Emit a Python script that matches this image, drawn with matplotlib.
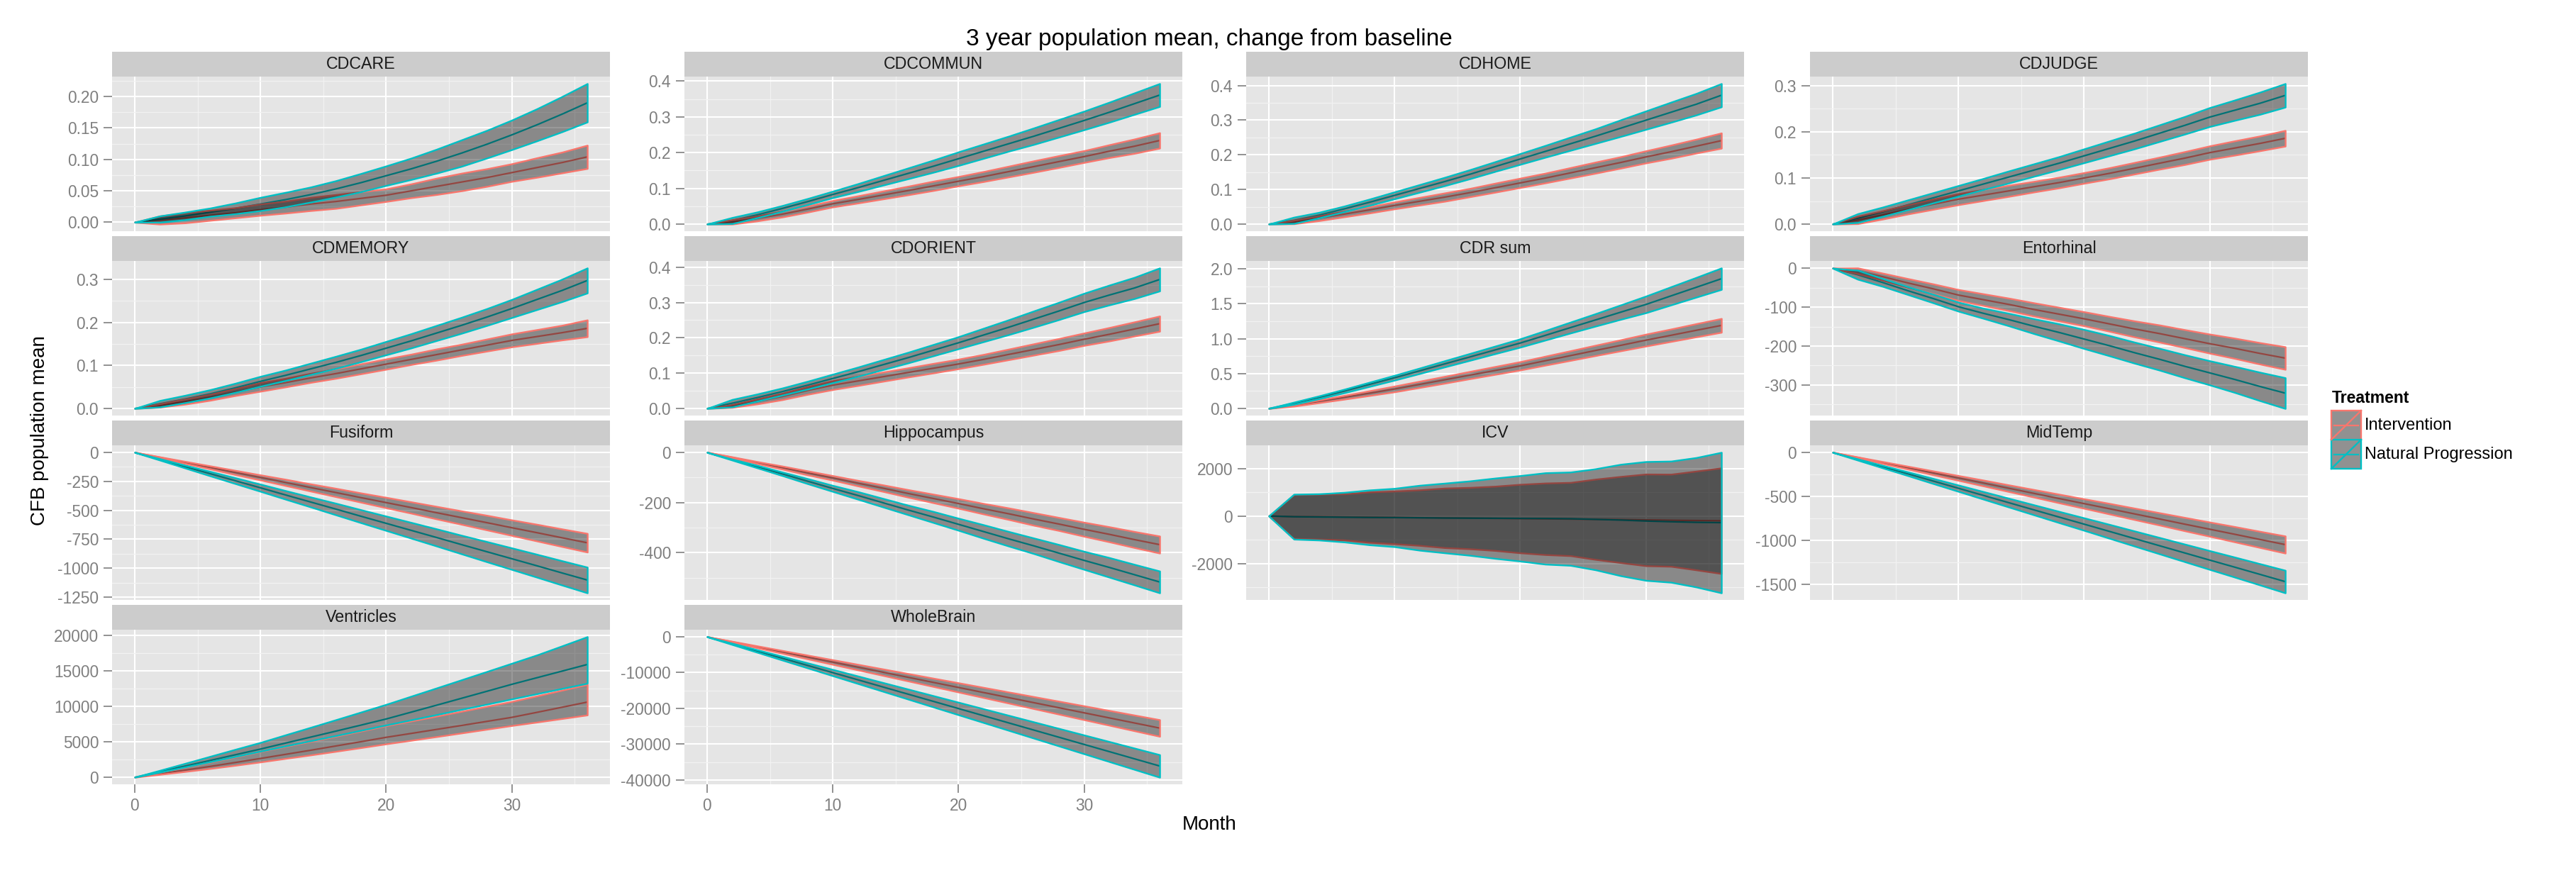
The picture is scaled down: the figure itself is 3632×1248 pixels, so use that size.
import matplotlib
matplotlib.use("Agg")
import matplotlib.pyplot as plt
from matplotlib.ticker import FixedLocator, AutoMinorLocator, NullFormatter
from matplotlib.patches import Rectangle
import numpy as np

plt.rcParams["font.family"] = ["Liberation Sans", "DejaVu Sans"]
plt.rcParams["axes.unicode_minus"] = False

# ---------------------------------------------------------------- data
MONTHS = [0, 2, 4, 6, 8, 10, 12, 14, 16, 18, 20, 22, 24, 26, 28, 30, 32, 34, 36]
TREATMENTS = ["Intervention", "Natural Progression"]
TREAT_COLORS = ["#F8766D", "#00BFC4"]
PANELS = ["CDCARE", "CDCOMMUN", "CDHOME", "CDJUDGE",
          "CDMEMORY", "CDORIENT", "CDR sum", "Entorhinal",
          "Fusiform", "Hippocampus", "ICV", "MidTemp",
          "Ventricles", "WholeBrain"]

# mean change from baseline and ribbon half-widths (upper / lower distance from mean)
CDCARE_IV_MEAN = [0, 0.0035, 0.007, 0.011, 0.015, 0.020, 0.024, 0.029, 0.033, 0.038, 0.043, 0.050, 0.057, 0.064, 0.071, 0.079, 0.087, 0.095, 0.104]
CDCARE_IV_HALF = [0, 0.0065, 0.008, 0.008, 0.008, 0.009, 0.0095, 0.0105, 0.011, 0.0105, 0.010, 0.011, 0.013, 0.014, 0.014, 0.014, 0.0155, 0.0165, 0.0185]
CDCARE_NP_MEAN = [0, 0.005, 0.010, 0.016, 0.022, 0.029, 0.036, 0.044, 0.053, 0.063, 0.074, 0.085, 0.097, 0.110, 0.124, 0.139, 0.155, 0.172, 0.190]
CDCARE_NP_HALF = [0, 0.005, 0.006, 0.0065, 0.0085, 0.0105, 0.0115, 0.012, 0.013, 0.0145, 0.0155, 0.017, 0.019, 0.021, 0.022, 0.0235, 0.0255, 0.028, 0.0305]

CDCOMMUN_IV_MEAN = [0, 0.006, 0.016, 0.028, 0.042, 0.057, 0.069, 0.0815, 0.094, 0.107, 0.120, 0.133, 0.147, 0.161, 0.175, 0.189, 0.204, 0.218, 0.234]
CDCOMMUN_IV_HALF = [0, 0.006, 0.007, 0.008, 0.0085, 0.009, 0.010, 0.011, 0.012, 0.013, 0.013, 0.014, 0.015, 0.016, 0.0165, 0.0165, 0.018, 0.020, 0.0215]
CDCOMMUN_NP_MEAN = [0, 0.010, 0.026, 0.044, 0.063, 0.083, 0.102, 0.122, 0.142, 0.162, 0.183, 0.204, 0.225, 0.246, 0.268, 0.290, 0.313, 0.337, 0.361]
CDCOMMUN_NP_HALF = [0, 0.0085, 0.008, 0.008, 0.0085, 0.009, 0.011, 0.013, 0.015, 0.017, 0.019, 0.020, 0.021, 0.023, 0.0245, 0.026, 0.028, 0.030, 0.032]

CDHOME_IV_MEAN = [0, 0.006, 0.017, 0.029, 0.041, 0.054, 0.066, 0.078, 0.091, 0.105, 0.119, 0.133, 0.148, 0.163, 0.178, 0.194, 0.209, 0.225, 0.241]
CDHOME_IV_HALF = [0, 0.005, 0.007, 0.008, 0.009, 0.010, 0.011, 0.012, 0.012, 0.013, 0.0135, 0.014, 0.015, 0.016, 0.0165, 0.0175, 0.019, 0.020, 0.022]
CDHOME_NP_MEAN = [0, 0.011, 0.026, 0.044, 0.063, 0.083, 0.103, 0.123, 0.144, 0.166, 0.188, 0.210, 0.232, 0.254, 0.277, 0.300, 0.323, 0.346, 0.372]
CDHOME_NP_HALF = [0, 0.009, 0.008, 0.008, 0.009, 0.010, 0.011, 0.012, 0.013, 0.014, 0.0155, 0.017, 0.019, 0.021, 0.024, 0.0265, 0.029, 0.031, 0.0335]

CDJUDGE_IV_MEAN = [0, 0.009, 0.020, 0.032, 0.043, 0.054, 0.063, 0.072, 0.081, 0.090, 0.100, 0.110, 0.121, 0.132, 0.143, 0.155, 0.165, 0.175, 0.186]
CDJUDGE_IV_HALF = [0, 0.008, 0.009, 0.010, 0.011, 0.012, 0.012, 0.012, 0.0115, 0.0115, 0.0115, 0.012, 0.0125, 0.013, 0.014, 0.0145, 0.0155, 0.016, 0.017]
CDJUDGE_NP_MEAN = [0, 0.013, 0.027, 0.042, 0.057, 0.072, 0.087, 0.102, 0.117, 0.132, 0.148, 0.164, 0.180, 0.197, 0.214, 0.232, 0.247, 0.262, 0.279]
CDJUDGE_NP_HALF = [0, 0.0095, 0.010, 0.0105, 0.011, 0.0115, 0.012, 0.013, 0.0135, 0.014, 0.015, 0.016, 0.017, 0.018, 0.019, 0.0205, 0.022, 0.024, 0.0255]

CDMEMORY_IV_MEAN = [0, 0.007, 0.016, 0.026, 0.038, 0.050, 0.060, 0.071, 0.081, 0.092, 0.103, 0.114, 0.125, 0.136, 0.147, 0.158, 0.167, 0.176, 0.186]
CDMEMORY_IV_HALF = [0, 0.004, 0.006, 0.007, 0.008, 0.010, 0.010, 0.0105, 0.011, 0.0115, 0.012, 0.012, 0.013, 0.013, 0.014, 0.015, 0.016, 0.017, 0.0195]
CDMEMORY_NP_MEAN = [0, 0.011, 0.022, 0.034, 0.048, 0.063, 0.077, 0.092, 0.107, 0.123, 0.140, 0.157, 0.175, 0.193, 0.212, 0.232, 0.253, 0.274, 0.297]
CDMEMORY_NP_HALF = [0, 0.0075, 0.0085, 0.0095, 0.0105, 0.0115, 0.012, 0.013, 0.014, 0.0145, 0.0155, 0.0165, 0.0175, 0.0185, 0.0195, 0.021, 0.0235, 0.026, 0.029]

CDORIENT_IV_MEAN = [0, 0.007, 0.020, 0.034, 0.051, 0.066, 0.078, 0.090, 0.102, 0.114, 0.126, 0.139, 0.153, 0.167, 0.181, 0.196, 0.210, 0.225, 0.240]
CDORIENT_IV_HALF = [0, 0.004, 0.007, 0.009, 0.011, 0.0125, 0.013, 0.013, 0.013, 0.0135, 0.0135, 0.014, 0.015, 0.016, 0.017, 0.0175, 0.019, 0.020, 0.0215]
CDORIENT_NP_MEAN = [0, 0.015, 0.031, 0.048, 0.066, 0.085, 0.104, 0.124, 0.144, 0.165, 0.186, 0.208, 0.230, 0.253, 0.276, 0.300, 0.321, 0.341, 0.365]
CDORIENT_NP_HALF = [0, 0.0105, 0.010, 0.010, 0.011, 0.012, 0.013, 0.014, 0.015, 0.016, 0.017, 0.019, 0.021, 0.023, 0.0245, 0.026, 0.028, 0.030, 0.0325]

CDRSUM_IV_MEAN = [0, 0.045, 0.102, 0.160, 0.219, 0.279, 0.345, 0.411, 0.478, 0.544, 0.610, 0.684, 0.757, 0.831, 0.904, 0.978, 1.048, 1.119, 1.189]
CDRSUM_IV_HALF = [0, 0.012, 0.019, 0.027, 0.034, 0.041, 0.045, 0.049, 0.052, 0.056, 0.0595, 0.064, 0.069, 0.074, 0.079, 0.085, 0.089, 0.094, 0.0985]
CDRSUM_NP_MEAN = [0, 0.075, 0.160, 0.250, 0.345, 0.440, 0.539, 0.639, 0.738, 0.838, 0.937, 1.047, 1.158, 1.268, 1.379, 1.489, 1.612, 1.734, 1.857]
CDRSUM_NP_HALF = [0, 0.0155, 0.020, 0.025, 0.030, 0.0345, 0.039, 0.044, 0.049, 0.054, 0.0595, 0.068, 0.078, 0.089, 0.103, 0.119, 0.130, 0.141, 0.1535]

ENTORHINAL_IV_MEAN = [0, -7, -22, -38, -53, -69, -81, -93, -106, -118, -130, -143, -156, -168, -181, -194, -206, -219, -231]
ENTORHINAL_IV_HALF = [0, 7.5, 9, 11, 12.5, 14, 15, 16, 17, 17.5, 18, 19, 20.5, 22, 23, 24.5, 26, 27.5, 29]
ENTORHINAL_NP_MEAN = [0, -17, -37, -58, -78, -99, -116, -132, -149, -165, -182, -199, -217, -234, -252, -269, -286, -304, -321]
ENTORHINAL_NP_HALF = [0, 11.5, 10, 10, 11, 11.5, 13, 16, 19, 22, 24.5, 26, 27, 28, 29.5, 31, 33.5, 36.5, 39.5]

FUSIFORM_IV_MEAN = [0, -43, -87, -130, -174, -217, -260, -304, -347, -391, -434, -477, -521, -564, -607, -651, -694, -738, -781]
FUSIFORM_IV_HALF = [0, 4, 9, 13, 18, 22, 27, 31, 36, 40, 45, 49, 54, 58, 63, 67, 72, 76, 80.5]
FUSIFORM_NP_MEAN = [0, -61, -123, -184, -245, -306, -368, -429, -490, -552, -613, -674, -735, -797, -858, -919, -980, -1042, -1103]
FUSIFORM_NP_HALF = [0, 6, 12, 19, 25, 31, 37, 43, 50, 56, 62, 68, 74, 80, 87, 93, 99, 105, 111]

HIPPO_IV_MEAN = [0, -20, -41, -61, -82, -102, -123, -143, -164, -184, -204, -225, -245, -266, -286, -307, -327, -348, -368]
HIPPO_IV_HALF = [0, 2, 4, 6, 8, 9, 11, 13, 15, 17, 19, 21, 23, 25, 26, 28, 30, 32, 34]
HIPPO_NP_MEAN = [0, -29, -57, -86, -115, -144, -172, -201, -230, -258, -287, -316, -345, -373, -402, -431, -459, -488, -517]
HIPPO_NP_HALF = [0, 2, 5, 7, 10, 12, 15, 17, 19, 22, 24, 27, 29, 31, 34, 36, 39, 41, 43.5]

ICV_IV_MEAN = [0, -25, -30, -40, -50, -60, -70, -80, -90, -100, -110, -120, -130, -140, -150, -165, -180, -190, -200]
ICV_IV_HALF = [0, 918, 943, 968, 1057, 1107, 1167, 1251, 1290, 1350, 1439, 1504, 1539, 1687, 1811, 1926, 1936, 2075, 2219]
ICV_NP_MEAN = [0, -30, -40, -50, -60, -65, -75, -85, -90, -95, -100, -105, -115, -140, -170, -210, -240, -265, -278]
ICV_NP_HALF = [0, 943, 972, 1042, 1151, 1225, 1364, 1464, 1563, 1687, 1796, 1920, 1960, 2124, 2342, 2496, 2546, 2719, 2953]

MIDTEMP_IV_MEAN = [0, -58, -117, -175, -234, -292, -350, -409, -467, -526, -584, -642, -701, -759, -818, -876, -934, -993, -1051]
MIDTEMP_IV_HALF = [0, 5, 11, 16, 22, 27, 33, 38, 43, 49, 54, 60, 65, 70, 76, 81, 87, 92, 97.5]
MIDTEMP_NP_MEAN = [0, -82, -164, -245, -327, -409, -491, -573, -655, -737, -818, -900, -982, -1064, -1146, -1228, -1309, -1391, -1473]
MIDTEMP_NP_HALF = [0, 7, 14, 21, 29, 36, 43, 50, 57, 64, 71, 79, 86, 93, 100, 107, 114, 121, 128.5]

VENTRICLES_IV_MEAN = [0, 500, 1010, 1530, 2080, 2649, 3230, 3810, 4410, 5010, 5629, 6180, 6740, 7300, 7870, 8444, 9150, 9870, 10596]
VENTRICLES_IV_UP = [0, 200, 390, 590, 790, 980, 1110, 1240, 1370, 1500, 1635, 1750, 1870, 1990, 2110, 2230, 2310, 2400, 2484]
VENTRICLES_IV_DN = [0, 100, 200, 300, 400, 497, 580, 670, 760, 840, 927, 975, 1020, 1065, 1110, 1159, 1380, 1600, 1821]
VENTRICLES_NP_MEAN = [0, 780, 1570, 2370, 3170, 3974, 4820, 5660, 6500, 7350, 8212, 9180, 10150, 11130, 12110, 13100, 14030, 14960, 15894]
VENTRICLES_NP_UP = [0, 190, 380, 570, 760, 926, 1150, 1370, 1600, 1830, 2053, 2240, 2420, 2600, 2780, 2960, 3200, 3550, 3906]
VENTRICLES_NP_DN = [0, 60, 120, 180, 240, 300, 410, 520, 630, 740, 850, 1090, 1330, 1570, 1820, 2070, 2260, 2450, 2649]

WHOLEBRAIN_IV_MEAN = [0, -1417, -2833, -4250, -5666, -7083, -8499, -9916, -11332, -12749, -14165, -15582, -16998, -18415, -19831, -21248, -22664, -24081, -25497]
WHOLEBRAIN_IV_HALF = [0, 129, 258, 386, 515, 644, 773, 902, 1030, 1159, 1288, 1417, 1545, 1674, 1803, 1932, 2060, 2189, 2318]
WHOLEBRAIN_NP_MEAN = [0, -2005, -4010, -6016, -8021, -10026, -12031, -14036, -16041, -18047, -20052, -22057, -24062, -26067, -28072, -30077, -32083, -34088, -36093]
WHOLEBRAIN_NP_HALF = [0, 175, 350, 524, 699, 874, 1048, 1223, 1398, 1573, 1747, 1922, 2097, 2271, 2446, 2621, 2796, 2970, 3145]

X_TICKS = [0, 10, 20, 30]
Y_TICKS_CDCARE = [0, 0.05, 0.10, 0.15, 0.20]
Y_TICKS_CD04 = [0, 0.1, 0.2, 0.3, 0.4]
Y_TICKS_CD03 = [0, 0.1, 0.2, 0.3]
Y_TICKS_CDRSUM = [0, 0.5, 1.0, 1.5, 2.0]
Y_TICKS_ENTORHINAL = [-300, -200, -100, 0]
Y_TICKS_FUSIFORM = [-1250, -1000, -750, -500, -250, 0]
Y_TICKS_HIPPO = [-400, -200, 0]
Y_TICKS_ICV = [-2000, 0, 2000]
Y_TICKS_MIDTEMP = [-1500, -1000, -500, 0]
Y_TICKS_VENTRICLES = [0, 5000, 10000, 15000, 20000]
Y_TICKS_WHOLEBRAIN = [-40000, -30000, -20000, -10000, 0]

# (intervention, natural progression) series per panel: (mean, upper, lower)
PANEL_SERIES = {
    "CDCARE": [(CDCARE_IV_MEAN, CDCARE_IV_HALF, CDCARE_IV_HALF), (CDCARE_NP_MEAN, CDCARE_NP_HALF, CDCARE_NP_HALF)],
    "CDCOMMUN": [(CDCOMMUN_IV_MEAN, CDCOMMUN_IV_HALF, CDCOMMUN_IV_HALF), (CDCOMMUN_NP_MEAN, CDCOMMUN_NP_HALF, CDCOMMUN_NP_HALF)],
    "CDHOME": [(CDHOME_IV_MEAN, CDHOME_IV_HALF, CDHOME_IV_HALF), (CDHOME_NP_MEAN, CDHOME_NP_HALF, CDHOME_NP_HALF)],
    "CDJUDGE": [(CDJUDGE_IV_MEAN, CDJUDGE_IV_HALF, CDJUDGE_IV_HALF), (CDJUDGE_NP_MEAN, CDJUDGE_NP_HALF, CDJUDGE_NP_HALF)],
    "CDMEMORY": [(CDMEMORY_IV_MEAN, CDMEMORY_IV_HALF, CDMEMORY_IV_HALF), (CDMEMORY_NP_MEAN, CDMEMORY_NP_HALF, CDMEMORY_NP_HALF)],
    "CDORIENT": [(CDORIENT_IV_MEAN, CDORIENT_IV_HALF, CDORIENT_IV_HALF), (CDORIENT_NP_MEAN, CDORIENT_NP_HALF, CDORIENT_NP_HALF)],
    "CDR sum": [(CDRSUM_IV_MEAN, CDRSUM_IV_HALF, CDRSUM_IV_HALF), (CDRSUM_NP_MEAN, CDRSUM_NP_HALF, CDRSUM_NP_HALF)],
    "Entorhinal": [(ENTORHINAL_IV_MEAN, ENTORHINAL_IV_HALF, ENTORHINAL_IV_HALF), (ENTORHINAL_NP_MEAN, ENTORHINAL_NP_HALF, ENTORHINAL_NP_HALF)],
    "Fusiform": [(FUSIFORM_IV_MEAN, FUSIFORM_IV_HALF, FUSIFORM_IV_HALF), (FUSIFORM_NP_MEAN, FUSIFORM_NP_HALF, FUSIFORM_NP_HALF)],
    "Hippocampus": [(HIPPO_IV_MEAN, HIPPO_IV_HALF, HIPPO_IV_HALF), (HIPPO_NP_MEAN, HIPPO_NP_HALF, HIPPO_NP_HALF)],
    "ICV": [(ICV_IV_MEAN, ICV_IV_HALF, ICV_IV_HALF), (ICV_NP_MEAN, ICV_NP_HALF, ICV_NP_HALF)],
    "MidTemp": [(MIDTEMP_IV_MEAN, MIDTEMP_IV_HALF, MIDTEMP_IV_HALF), (MIDTEMP_NP_MEAN, MIDTEMP_NP_HALF, MIDTEMP_NP_HALF)],
    "Ventricles": [(VENTRICLES_IV_MEAN, VENTRICLES_IV_UP, VENTRICLES_IV_DN), (VENTRICLES_NP_MEAN, VENTRICLES_NP_UP, VENTRICLES_NP_DN)],
    "WholeBrain": [(WHOLEBRAIN_IV_MEAN, WHOLEBRAIN_IV_HALF, WHOLEBRAIN_IV_HALF), (WHOLEBRAIN_NP_MEAN, WHOLEBRAIN_NP_HALF, WHOLEBRAIN_NP_HALF)],
}
PANEL_YTICKS = {
    "CDCARE": Y_TICKS_CDCARE, "CDCOMMUN": Y_TICKS_CD04, "CDHOME": Y_TICKS_CD04,
    "CDJUDGE": Y_TICKS_CD03, "CDMEMORY": Y_TICKS_CD03, "CDORIENT": Y_TICKS_CD04,
    "CDR sum": Y_TICKS_CDRSUM, "Entorhinal": Y_TICKS_ENTORHINAL, "Fusiform": Y_TICKS_FUSIFORM,
    "Hippocampus": Y_TICKS_HIPPO, "ICV": Y_TICKS_ICV, "MidTemp": Y_TICKS_MIDTEMP,
    "Ventricles": Y_TICKS_VENTRICLES, "WholeBrain": Y_TICKS_WHOLEBRAIN,
}

# ---------------------------------------------------------------- layout (pixels)
W, H, DPI = 3632, 1248, 200
COL_LEFT = [158, 965, 1757, 2552]
ROW_TOP = [73, 333, 593, 853]
PANEL_W, STRIP_H, PANEL_H = 702, 35, 218

PANEL_BG = "#E5E5E5"
STRIP_BG = "#CCCCCC"
FILL_RGBA = (0, 0, 0, 0.4)
TICK_COL = "#7F7F7F"


def tick_labels(ticks):
    for d in range(4):
        if all(abs(round(t, d) - t) < 1e-9 for t in ticks):
            break
    return [f"{t:.{d}f}" for t in ticks]


def frac_box(x, y, w, h):
    return [x / W, 1 - (y + h) / H, w / W, h / H]


fig = plt.figure(figsize=(W / DPI, H / DPI), dpi=DPI)
fig.patch.set_facecolor("white")

n_cols = 4
for i, name in enumerate(PANELS):
    r, c = divmod(i, n_cols)
    x0, y0 = COL_LEFT[c], ROW_TOP[r]

    # facet strip
    sax = fig.add_axes(frac_box(x0, y0, PANEL_W, STRIP_H))
    sax.set_facecolor(STRIP_BG)
    sax.set_xticks([]); sax.set_yticks([])
    for sp in sax.spines.values():
        sp.set_visible(False)
    sax.text(0.5, 0.5, name, ha="center", va="center", fontsize=8.4,
             color="#1A1A1A", transform=sax.transAxes)

    ax = fig.add_axes(frac_box(x0, y0 + STRIP_H, PANEL_W, PANEL_H))
    ax.set_facecolor(PANEL_BG)
    for sp in ax.spines.values():
        sp.set_visible(False)
    ax.set_axisbelow(True)

    series = PANEL_SERIES[name]
    # mean trajectories sit beneath the ribbons
    for (mean, up, dn), col in zip(series, TREAT_COLORS):
        ax.plot(MONTHS, mean, color=col, lw=0.8, zorder=2, solid_capstyle="butt")
    for k, ((mean, up, dn), col) in enumerate(zip(series, TREAT_COLORS)):
        m = np.asarray(mean, float)
        hi = m + np.asarray(up, float)
        lo = m - np.asarray(dn, float)
        ax.fill_between(MONTHS, lo, hi, facecolor=FILL_RGBA, edgecolor=col,
                        linewidth=0.85, joinstyle="round", zorder=3 + k)

    ax.margins(x=0.05, y=0.05)

    yt = PANEL_YTICKS[name]
    ax.yaxis.set_major_locator(FixedLocator(yt))
    ax.set_yticklabels(tick_labels(yt))
    ax.xaxis.set_major_locator(FixedLocator(X_TICKS))
    ax.xaxis.set_minor_locator(AutoMinorLocator(2))
    ax.yaxis.set_minor_locator(AutoMinorLocator(2))
    ax.yaxis.set_minor_formatter(NullFormatter())
    ax.xaxis.set_minor_formatter(NullFormatter())

    ax.grid(which="major", color="white", lw=0.75)
    ax.grid(which="minor", color="#F2F2F2", lw=0.45)
    ax.tick_params(which="minor", length=0)
    ax.tick_params(axis="y", which="major", length=4.2, width=0.6, color=TICK_COL,
                   labelsize=8.2, labelcolor=TICK_COL, pad=2.6)

    bottom_panel = (r == 3)
    if bottom_panel:
        ax.set_xticklabels([str(t) for t in X_TICKS])
        ax.tick_params(axis="x", which="major", length=4.2, width=0.6, color=TICK_COL,
                       labelsize=8.2, labelcolor=TICK_COL, pad=2.6)
    else:
        ax.tick_params(axis="x", which="major", length=0, labelbottom=False)

# ---------------------------------------------------------------- titles and legend
ov = fig.add_axes([0, 0, 1, 1], zorder=10)
ov.set_xlim(0, W); ov.set_ylim(H, 0)
ov.axis("off")

ov.text(1705, 64, "3 year population mean, change from baseline", ha="center",
        va="baseline", fontsize=12, color="black")
ov.text(1705, 1170, "Month", ha="center", va="baseline", fontsize=10, color="black")
ov.text(56, 607, "CFB population mean", ha="center", va="center", rotation=90,
        fontsize=10, color="black")

ov.text(3288, 568, "Treatment", ha="left", va="baseline", fontsize=8.3,
        fontweight="bold", color="black")
KEY_X, KEY_W, KEY_H = 3287, 42, 41
for j, (lab, col) in enumerate(zip(TREATMENTS, TREAT_COLORS)):
    ky = 579 + j * KEY_H
    ov.add_patch(Rectangle((KEY_X, ky), KEY_W, KEY_H, facecolor="#F2F2F2", edgecolor="none"))
    ov.plot([KEY_X + 4, KEY_X + KEY_W - 4], [ky + KEY_H / 2] * 2, color=col, lw=0.8)
    ov.add_patch(Rectangle((KEY_X, ky), KEY_W, KEY_H, facecolor=FILL_RGBA,
                           edgecolor=col, lw=0.85))
    ov.plot([KEY_X, KEY_X + KEY_W], [ky + KEY_H, ky], color=col, lw=0.85)
    ov.text(KEY_X + KEY_W + 5, ky + KEY_H / 2, lab, ha="left", va="center",
            fontsize=8.5, color="black")

fig.savefig("out.png", dpi=DPI, facecolor="white")
